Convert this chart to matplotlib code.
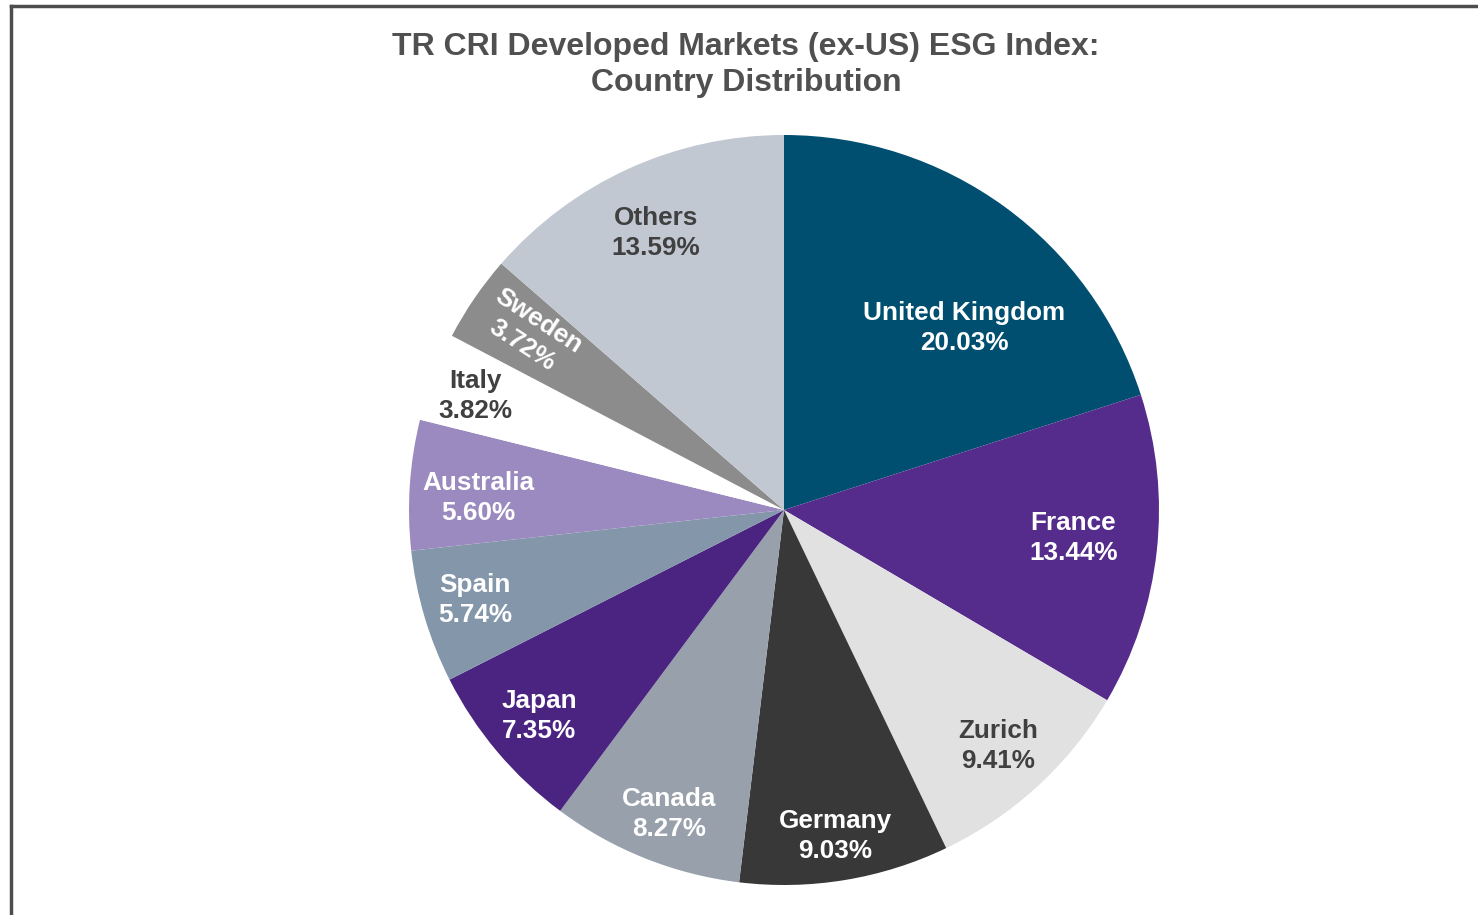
import matplotlib
matplotlib.use('Agg')
import matplotlib.pyplot as plt
from matplotlib.lines import Line2D

plt.rcParams['font.family'] = ['Liberation Sans', 'DejaVu Sans']

# data
countries = ['United Kingdom', 'France', 'Zurich', 'Germany', 'Canada', 'Japan',
             'Spain', 'Australia', 'Italy', 'Sweden', 'Others']
shares = [20.03, 13.44, 9.41, 9.03, 8.27, 7.35, 5.74, 5.60, 3.82, 3.72, 13.59]

slice_colors = ['#004f71', '#552c8c', '#e1e1e1', '#383838', '#97a0ab', '#4a2480',
                '#8497aa', '#9a8abf', '#ffffff', '#8c8c8c', '#c2c8d2']
text_colors = ['white', 'white', '#404040', 'white', 'white', 'white',
               'white', 'white', '#404040', 'white', '#404040']
# label centres in pie units (radius = 1), as Excel placed them
label_xy = [(0.48, 0.485), (0.772, -0.075), (0.571, -0.629), (0.136, -0.869),
            (-0.307, -0.811), (-0.653, -0.549), (-0.824, -0.24), (-0.816, 0.032),
            (-0.824, 0.304), (-0.677, 0.472), (-0.341, 0.739)]
label_rot = [0, 0, 0, 0, 0, 0, 0, 0, 0, -33, 0]

W, H = 1478, 915
fig = plt.figure(figsize=(W / 100, H / 100), dpi=100)

cx, cy, r = 784, 510, 375
ax = fig.add_axes([(cx - r) / W, (H - cy - r) / H, 2 * r / W, 2 * r / H])
ax.pie(shares, colors=slice_colors, startangle=90, counterclock=False,
       wedgeprops=dict(linewidth=0))
ax.set_xlim(-1, 1)
ax.set_ylim(-1, 1)
ax.set_aspect('equal')
ax.set_axis_off()

for name, val, (x, y), c, rot in zip(countries, shares, label_xy, text_colors, label_rot):
    ax.text(x, y, f'{name}\n{val:.2f}%', ha='center', va='center', color=c,
            fontsize=18.8, fontweight='bold', rotation=rot, rotation_mode='anchor',
            linespacing=1.3)

fig.text(746 / W, 1 - 65 / H,
         'TR CRI Developed Markets (ex-US) ESG Index:\nCountry Distribution',
         ha='center', va='center', fontsize=23, fontweight='bold', color='#505050',
         linespacing=1.3)

# frame partly visible at the left and top
bx, by = 11 / W, 1 - 6 / H
fig.add_artist(Line2D([bx, bx], [0, by], transform=fig.transFigure, color='#4d4d4d', lw=2.5))
fig.add_artist(Line2D([bx, 1], [by, by], transform=fig.transFigure, color='#4d4d4d', lw=2.5))

fig.savefig('out.png', dpi=100, facecolor='white')
